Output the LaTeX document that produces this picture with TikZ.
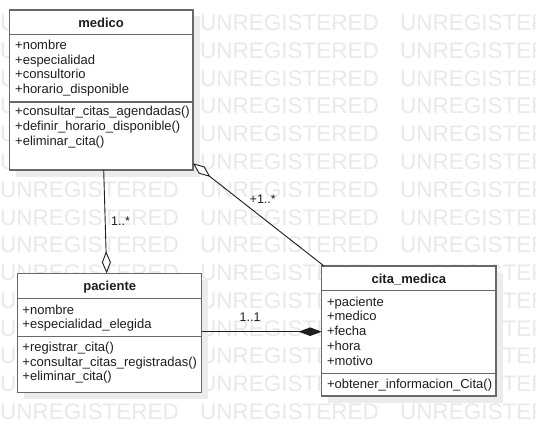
\documentclass[tikz,border=0pt]{standalone}
\usepackage{fontspec}
\setmainfont{Liberation Sans}
\usetikzlibrary{arrows.meta}
\definecolor{wmark}{RGB}{233,233,233}
\definecolor{shadowc}{RGB}{236,236,236}
\definecolor{boxline}{RGB}{104,104,104}
\definecolor{txt}{RGB}{30,30,30}
\definecolor{connc}{RGB}{30,30,30}
\tikzset{
  wm/.style={anchor=base west, inner sep=0pt, text=wmark, font=\fontsize{22.5}{22.5}\selectfont},
  umlbox/.style={draw=boxline, line width=1.5pt, fill=white, anchor=north west, inner sep=0pt, outer sep=0pt},
  divider/.style={draw=boxline, line width=1.5pt},
  shad/.style={fill=shadowc},
  member/.style={anchor=base west, inner sep=0pt, text=txt, font=\fontsize{13}{14.5}\selectfont},
  title/.style={anchor=base, inner sep=0pt, text=txt, font=\fontsize{13}{14.5}\selectfont\bfseries},
  conn/.style={draw=connc, line width=0.9pt},
  mult/.style={anchor=base west, inner sep=0pt, text=txt, font=\fontsize{12.5}{14}\selectfont},
  opendia/.style={-{Diamond[fill=white,length=22pt,width=9pt]}},
  filldia/.style={-{Diamond[fill=connc,length=23pt,width=8.5pt]}}
}
\begin{document}
\begin{tikzpicture}[x=1pt,y=-1pt]
\clip (0,0) rectangle (536,436);
\fill[white] (0,0) rectangle (536,436);
% watermark
\foreach \k in {0,...,14}{
  \foreach \c in {0,200,400}{
    \node[wm] at (\c,30.7+27.76*\k) {UNREGISTERED};
  }
}
% shadows
\fill[shad] (15.8,16.5) rectangle (199.5,176.5);
\fill[shad] (24.2,279.8) rectangle (208.2,399.2);
\fill[shad] (328.2,272.5) rectangle (502.5,402.5);
% medico
\node[umlbox, minimum width=183.7pt, minimum height=160pt] (medico) at (9.3,10) {};
\draw[divider] (9.3,34.3) -- (193,34.3);
\draw[divider] (9.3,102) -- (193,102);
\node[title] (mt) at (101.15,27.3) {medico};
\node[member] (m1) at (15,50) {+nombre};
\node[member] (m2) at (15,64.5) {+especialidad};
\node[member] (m3) at (15,79) {+consultorio};
\node[member] (m4) at (15,93.5) {+horario\_disponible};
\node[member] (m5) at (15,116) {+consultar\_citas\_agendadas()};
\node[member] (m6) at (15,130.5) {+definir\_horario\_disponible()};
\node[member] (m7) at (15,145) {+eliminar\_cita()};
% paciente
\node[umlbox, minimum width=184pt, minimum height=119.4pt] (paciente) at (17.7,273.3) {};
\draw[divider] (17.7,298.7) -- (201.7,298.7);
\draw[divider] (17.7,336.7) -- (201.7,336.7);
\node[title] (pt) at (109.7,290.6) {paciente};
\node[member] (p1) at (22.3,314) {+nombre};
\node[member] (p2) at (22.3,328.7) {+especialidad\_elegida};
\node[member] (p3) at (22.3,351.5) {+registrar\_cita()};
\node[member] (p4) at (22.3,366) {+consultar\_citas\_registradas()};
\node[member] (p5) at (22.3,380.5) {+eliminar\_cita()};
% cita_medica
\node[umlbox, minimum width=174.3pt, minimum height=130pt] (cita) at (321.7,266) {};
\draw[divider] (321.7,290.7) -- (496,290.7);
\draw[divider] (321.7,373.3) -- (496,373.3);
\node[title] (ct) at (408.85,283.3) {cita\_medica};
\node[member] (c1) at (326.8,306.2) {+paciente};
\node[member] (c2) at (326.8,320.9) {+medico};
\node[member] (c3) at (326.8,335.6) {+fecha};
\node[member] (c4) at (326.8,350.3) {+hora};
\node[member] (c5) at (326.8,365) {+motivo};
\node[member] (c6) at (326.8,388) {+obtener\_informacion\_Cita()};
% connectors
\draw[conn, opendia] ([xshift=2.55pt]medico.south) -- ([xshift=-3pt]paciente.north);
\draw[conn, opendia] ([xshift=2.3pt]cita.north west) -- ([yshift=6.7pt]medico.south east);
\path ([yshift=1.3pt]paciente.east) coordinate (pe);
\draw[conn, filldia] (pe) -- (pe -| cita.west);
% multiplicities
\node[mult] (l1) at (111,225) {1..*};
\node[mult] (l2) at (249.5,203.5) {+1..*};
\node[mult] (l3) at (239.5,321.5) {1..1};
\end{tikzpicture}
\end{document}
